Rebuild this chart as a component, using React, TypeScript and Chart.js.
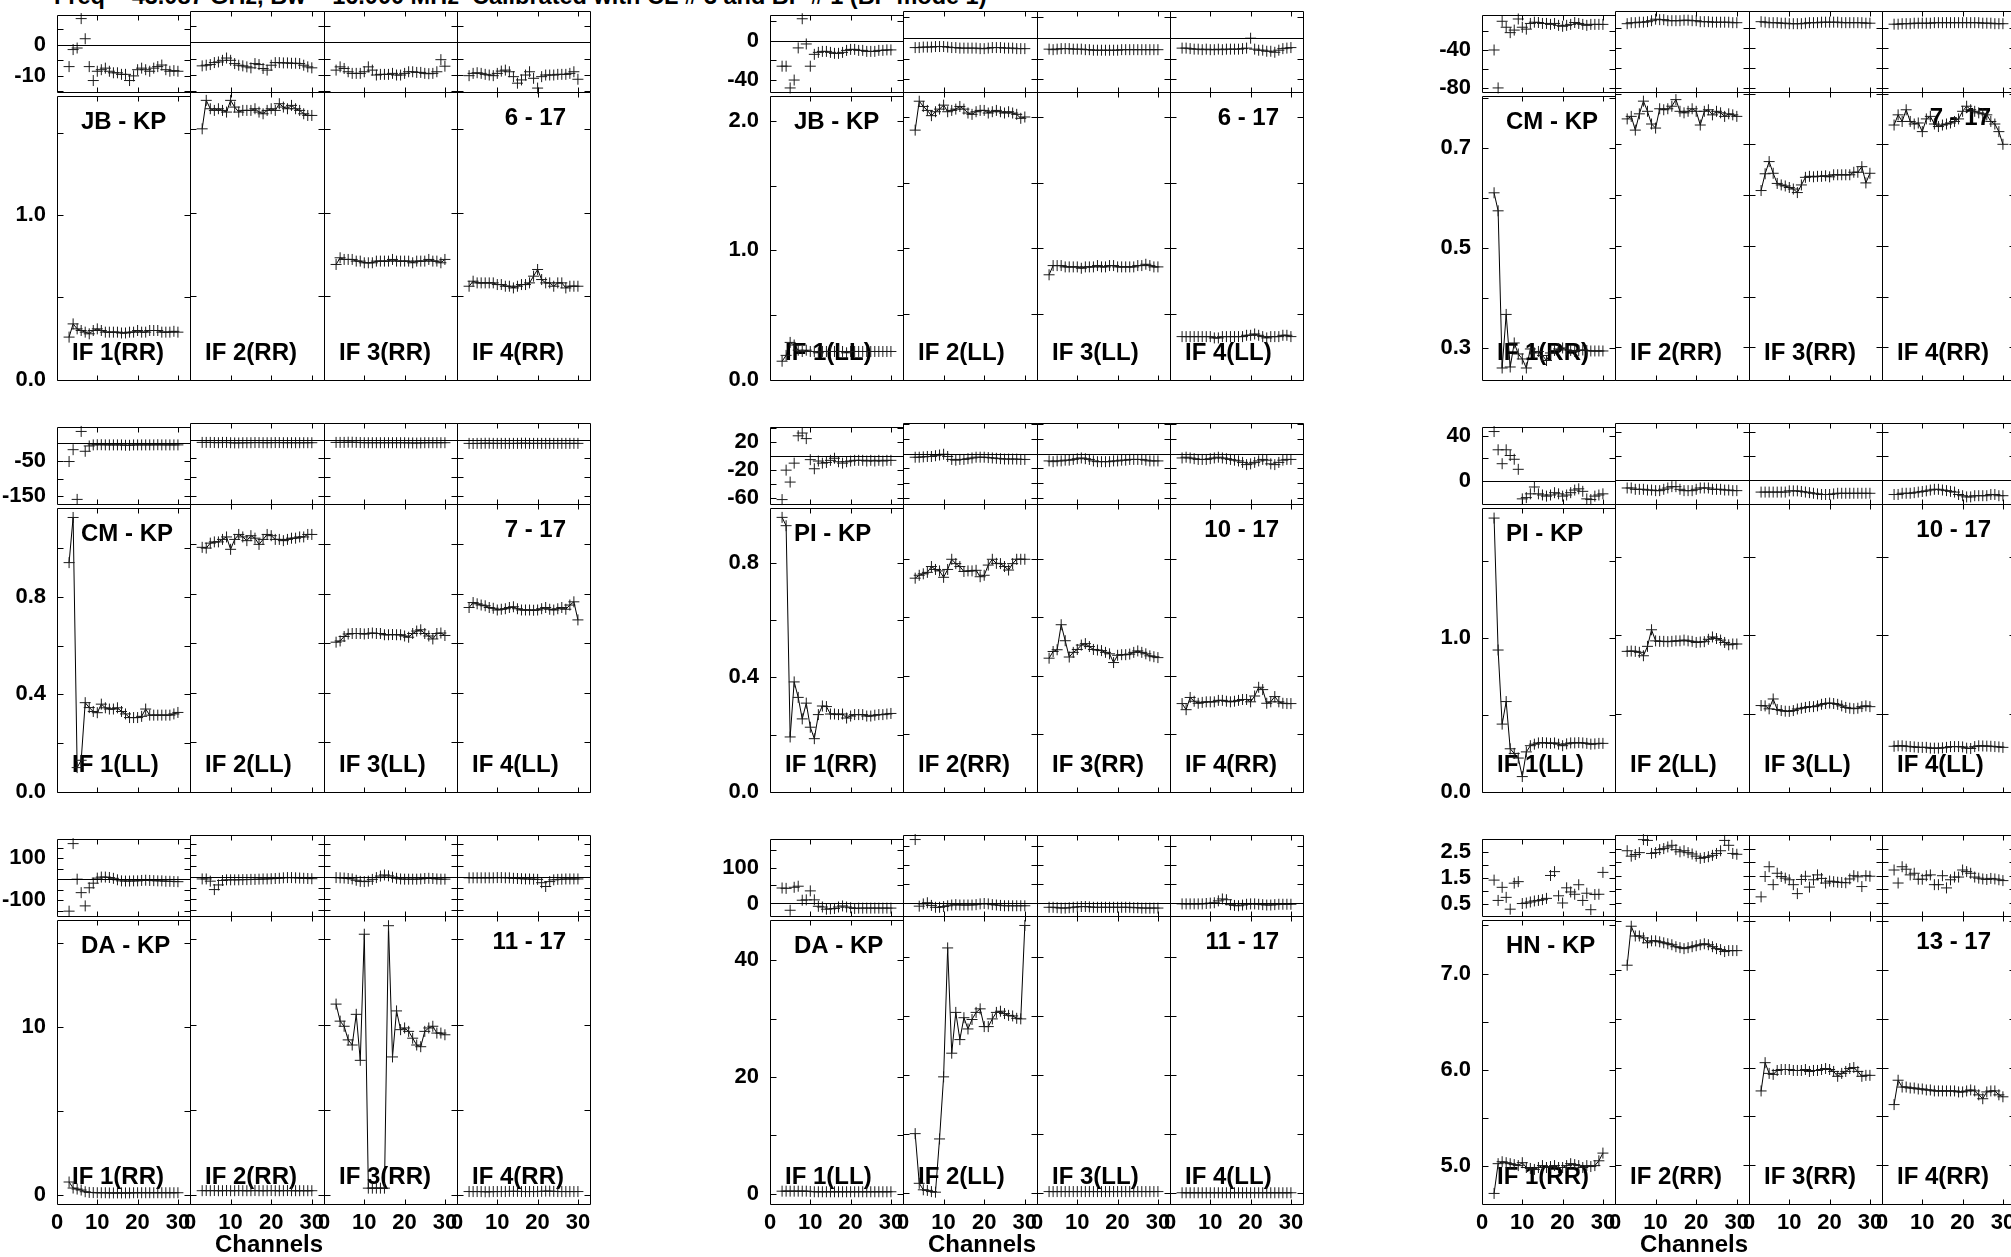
import React, { useEffect, useRef } from 'react';
import { Chart, registerables } from 'chart.js';

Chart.register(...registerables);

const FONT = '"Liberation Sans", Arial, Helvetica, sans-serif';

const TITLE = 'Freq = 43.087 GHz, Bw = 16.000 MHz  Calibrated with CL # 3 and BP # 1 (BP mode 1)';
const X_AXIS_TITLE = 'Channels';
const CHANNELS = [3, 4, 5, 6, 7, 8, 9, 10, 11, 12, 13, 14, 15, 16, 17, 18, 19, 20, 21, 22, 23, 24, 25, 26, 27, 28, 29, 30];
const X_TICKS = [0, 10, 20, 30];
const X_TICK_LABELS = ['0', '10', '20', '30'];
const X_MIN = 0;
const X_MAX = 33;
const IF_NAMES = ['IF 1', 'IF 2', 'IF 3', 'IF 4'];

const BASELINES = ['JB - KP', 'JB - KP', 'CM - KP', 'CM - KP', 'PI - KP', 'PI - KP', 'DA - KP', 'DA - KP', 'HN - KP'];
const ANTENNA_PAIRS = ['6 - 17', '6 - 17', '7 - 17', '7 - 17', '10 - 17', '10 - 17', '11 - 17', '11 - 17', '13 - 17'];
const POLS = ['RR', 'LL', 'RR', 'LL', 'RR', 'LL', 'RR', 'LL', 'RR'];

// ---- phase (degrees) and amplitude per IF, channels 3..30 ----
const JBKP_RR_PHASE = [
  [-7, -1.5, -1, 8.5, 2, -7, -11.5, -8.5, -8, -7.5, -8.5, -9, -9, -9.5, -9.5, -11.5, -10, -8, -7.5, -8, -8.5, -7.5, -7, -6.5, -8, -8.5, -8.3, -8.5],
  [-7.2, -7, -6.8, -6.2, -6, -5.5, -4.8, -5.5, -6.5, -7, -7.2, -7.5, -7.8, -6.5, -6.8, -8, -8.5, -7, -6.2, -6.2, -6.3, -6.3, -6.4, -6.4, -6.5, -7, -7.5, -7.8],
  [-8.5, -7.5, -8, -9, -9.5, -9.5, -9.5, -9, -7.5, -8.5, -10, -9.8, -9.8, -9.8, -9.5, -10, -10, -9.5, -9, -9, -9.2, -9.2, -9.5, -9.6, -9.5, -9, -5.3, -7.3],
  [-10.2, -9.5, -9.3, -9.5, -9.8, -10, -10.2, -9.5, -8.8, -8.5, -9, -10.5, -12.5, -11.5, -10, -9, -11, -14, -10.5, -10, -10, -10, -9.8, -9.8, -9.8, -9.5, -9, -11.3],
];
const JBKP_RR_AMP = [
  [0.26, 0.34, 0.31, 0.30, 0.29, 0.28, 0.30, 0.31, 0.30, 0.29, 0.29, 0.29, 0.29, 0.285, 0.285, 0.29, 0.29, 0.30, 0.29, 0.29, 0.30, 0.30, 0.30, 0.29, 0.29, 0.29, 0.295, 0.29],
  [1.50, 1.67, 1.62, 1.61, 1.62, 1.61, 1.60, 1.67, 1.63, 1.60, 1.61, 1.61, 1.61, 1.62, 1.60, 1.59, 1.61, 1.62, 1.61, 1.65, 1.63, 1.62, 1.64, 1.62, 1.61, 1.59, 1.58, 1.58],
  [0.69, 0.73, 0.72, 0.72, 0.72, 0.71, 0.71, 0.70, 0.70, 0.70, 0.71, 0.71, 0.71, 0.71, 0.72, 0.71, 0.71, 0.71, 0.71, 0.70, 0.71, 0.71, 0.71, 0.72, 0.71, 0.71, 0.70, 0.72],
  [0.56, 0.59, 0.58, 0.58, 0.58, 0.58, 0.58, 0.57, 0.57, 0.56, 0.56, 0.55, 0.56, 0.57, 0.57, 0.58, 0.62, 0.66, 0.60, 0.58, 0.58, 0.56, 0.58, 0.58, 0.55, 0.56, 0.56, 0.56],
];
const JBKP_LL_PHASE = [
  [-26, -26, -48, -40, -7.5, 22, -3.5, -26, -14, -12, -11, -11, -12, -13, -13, -12, -10, -9, -9, -10, -10, -11, -11, -11, -10, -10, -9.5, -9.5],
  [-9.5, -9.5, -9, -9, -9, -8.5, -8.5, -8.5, -9, -9.5, -9.5, -10, -10, -10, -10, -10, -10.5, -10.5, -10, -9.5, -9.5, -9.5, -10, -10, -10, -10.5, -10.5, -10.5],
  [-11, -11.5, -11, -10.5, -10.5, -10.5, -11, -11, -11, -11.5, -11.5, -12, -12, -12, -12, -12, -12, -12, -11.5, -11.5, -11.5, -11.5, -11.5, -11.5, -11.5, -11.5, -11.5, -11.5],
  [-10, -10, -10.5, -11, -11, -11.5, -11, -11.5, -11.5, -11, -11.5, -11, -11, -11, -11, -10.5, -10, -0.5, -11, -12, -12, -13, -13, -14, -12, -10.5, -10, -9.5],
];
const JBKP_LL_AMP = [
  [0.145, 0.19, 0.29, 0.27, 0.23, 0.22, 0.23, 0.22, 0.22, 0.21, 0.22, 0.22, 0.22, 0.22, 0.22, 0.22, 0.21, 0.22, 0.22, 0.22, 0.22, 0.22, 0.22, 0.22, 0.22, 0.22, 0.22, 0.22],
  [1.90, 2.12, 2.08, 2.05, 2.01, 2.04, 2.06, 2.09, 2.04, 2.05, 2.06, 2.08, 2.06, 2.03, 2.02, 2.04, 2.05, 2.05, 2.03, 2.04, 2.05, 2.04, 2.03, 2.04, 2.03, 2.02, 1.99, 2.0],
  [0.80, 0.87, 0.87, 0.87, 0.86, 0.86, 0.86, 0.86, 0.85, 0.86, 0.86, 0.86, 0.87, 0.86, 0.86, 0.87, 0.87, 0.86, 0.86, 0.86, 0.86, 0.86, 0.87, 0.87, 0.88, 0.87, 0.86, 0.86],
  [0.33, 0.33, 0.33, 0.33, 0.33, 0.33, 0.33, 0.33, 0.32, 0.32, 0.33, 0.33, 0.33, 0.33, 0.33, 0.33, 0.34, 0.34, 0.35, 0.34, 0.33, 0.32, 0.33, 0.33, 0.33, 0.34, 0.34, 0.33],
];
const CMKP_RR_PHASE = [
  [-40, -80, -9.7, -16, -21.7, -19, -7.3, -16, -18, -12, -10.7, -11, -12, -12, -13, -12, -14, -15, -14, -13, -11, -12, -13, -14, -13, -13, -13, -13],
  [-16, -15, -15, -14.5, -14.5, -14, -13, -11.5, -12, -12, -13, -13, -13, -13, -12.5, -12.5, -13, -13, -14, -14, -14, -14.5, -14.5, -14.5, -14.5, -14.5, -15, -15],
  [-14, -14.5, -15, -15, -15, -15.5, -15.5, -16, -16, -16, -16, -15.5, -15, -15, -15, -14.5, -14.5, -14.5, -14.5, -14.5, -15, -15, -15, -15, -15, -15, -15.5, -15.5],
  [-16.5, -16.5, -16, -16, -16, -15.5, -15.5, -15.5, -15.5, -15.5, -15, -15, -15, -15, -15, -15, -15, -15, -15, -15, -15, -15, -15.5, -15.5, -15.5, -16, -16, -16],
];
const CMKP_RR_AMP = [
  [0.61, 0.574, 0.26, 0.367, 0.262, 0.31, 0.288, 0.278, 0.26, 0.298, 0.29, 0.293, 0.285, 0.275, 0.29, 0.295, 0.298, 0.30, 0.296, 0.295, 0.293, 0.295, 0.296, 0.295, 0.294, 0.294, 0.294, 0.294],
  [0.75, 0.755, 0.728, 0.76, 0.785, 0.765, 0.74, 0.732, 0.77, 0.768, 0.77, 0.775, 0.788, 0.765, 0.762, 0.765, 0.77, 0.765, 0.738, 0.765, 0.768, 0.758, 0.765, 0.762, 0.755, 0.76, 0.758, 0.755],
  [0.609, 0.642, 0.666, 0.643, 0.623, 0.62, 0.618, 0.615, 0.612, 0.605, 0.62, 0.635, 0.637, 0.636, 0.637, 0.637, 0.638, 0.636, 0.64, 0.64, 0.64, 0.64, 0.64, 0.645, 0.645, 0.656, 0.624, 0.643],
  [0.738, 0.758, 0.745, 0.768, 0.745, 0.74, 0.742, 0.725, 0.75, 0.755, 0.74, 0.735, 0.738, 0.74, 0.742, 0.745, 0.75, 0.765, 0.775, 0.768, 0.765, 0.762, 0.76, 0.758, 0.745, 0.74, 0.725, 0.70],
];
const CMKP_LL_PHASE = [
  [-52, -18.5, -159, 33, -23, -8, -5, -4.5, -4.5, -5, -5, -5, -5, -5, -6, -6, -5, -5, -5, -5, -5, -5, -4.5, -5, -5, -5, -5, -5],
  [-7, -7, -7, -7.4, -7.8, -7, -7, -7.8, -8.3, -8.3, -7.8, -7.8, -7.8, -7.4, -7.4, -7.8, -7.8, -7.8, -7.4, -7.4, -7.8, -7.8, -7.8, -7.8, -7.8, -7.8, -7.8, -7.8],
  [-7, -7, -7, -6.5, -6.5, -7, -7.4, -7.8, -7.8, -7.8, -7.8, -7.8, -7.8, -7.8, -7.8, -7.8, -7.8, -7.8, -8.3, -8.3, -8.7, -8.3, -7.8, -7.8, -7.8, -7.8, -7.8, -7.8],
  [-9.6, -10, -9.6, -9.6, -9.2, -9.2, -9.6, -9.6, -9.6, -9.6, -9.6, -9.6, -9.6, -9.2, -9.2, -9.6, -9.6, -9.6, -9.6, -9.6, -9.6, -9.6, -9.6, -9.6, -9.6, -9.6, -9.6, -9.6],
];
const CMKP_LL_AMP = [
  [0.94, 1.125, 0.10, 0.13, 0.366, 0.346, 0.33, 0.325, 0.36, 0.345, 0.34, 0.34, 0.345, 0.33, 0.32, 0.305, 0.305, 0.305, 0.31, 0.34, 0.315, 0.315, 0.315, 0.315, 0.315, 0.315, 0.32, 0.326],
  [0.988, 0.985, 1.005, 1.01, 1.01, 1.02, 1.03, 0.98, 1.02, 1.04, 1.03, 1.015, 1.035, 1.025, 1.0, 1.02, 1.04, 1.035, 1.02, 1.02, 1.015, 1.02, 1.025, 1.025, 1.03, 1.03, 1.04, 1.04],
  [0.605, 0.61, 0.628, 0.638, 0.64, 0.64, 0.64, 0.638, 0.64, 0.642, 0.64, 0.64, 0.635, 0.635, 0.636, 0.635, 0.635, 0.63, 0.625, 0.64, 0.65, 0.655, 0.64, 0.63, 0.618, 0.64, 0.642, 0.632],
  [0.745, 0.765, 0.76, 0.755, 0.752, 0.745, 0.742, 0.735, 0.738, 0.74, 0.745, 0.748, 0.74, 0.735, 0.735, 0.735, 0.734, 0.735, 0.74, 0.745, 0.738, 0.735, 0.74, 0.745, 0.738, 0.755, 0.768, 0.695],
];
const PIKP_RR_PHASE = [
  [-62, -20, -37, -10, 29, 33, 25, -5, -18, -7, -10, -9, -6, -3, -8, -10, -8, -7, -6, -6, -6, -7, -6, -7, -6, -7, -6, -6],
  [-5, -5, -4.5, -4, -4, -3, -2, -1, -4, -8, -9, -8, -8, -7, -6, -5, -5, -5, -5.5, -6, -6.5, -7, -7.5, -7.5, -7.5, -7.5, -8, -8],
  [-10, -11, -10, -10, -9, -9, -8, -7, -6, -7, -8, -10, -11, -11, -11, -11, -10, -10, -9, -9, -8, -8, -8, -8, -9, -10, -10, -10],
  [-6, -5, -6, -7, -8, -8, -8, -7, -6, -5, -6, -7, -8, -9, -10, -12, -15, -14, -12, -10, -8, -9, -14, -15, -12, -9, -8, -8],
];
const PIKP_RR_AMP = [
  [0.958, 0.929, 0.192, 0.384, 0.33, 0.255, 0.31, 0.226, 0.186, 0.27, 0.30, 0.298, 0.272, 0.272, 0.27, 0.272, 0.258, 0.265, 0.27, 0.27, 0.27, 0.265, 0.265, 0.268, 0.27, 0.27, 0.272, 0.274],
  [0.735, 0.745, 0.75, 0.755, 0.775, 0.765, 0.76, 0.738, 0.765, 0.80, 0.785, 0.775, 0.758, 0.76, 0.76, 0.762, 0.74, 0.745, 0.78, 0.80, 0.786, 0.785, 0.775, 0.763, 0.785, 0.80, 0.80, 0.80],
  [0.46, 0.483, 0.489, 0.575, 0.52, 0.464, 0.48, 0.49, 0.505, 0.51, 0.5, 0.49, 0.488, 0.486, 0.48, 0.475, 0.445, 0.47, 0.472, 0.472, 0.474, 0.48, 0.485, 0.48, 0.475, 0.468, 0.465, 0.462],
  [0.304, 0.283, 0.325, 0.312, 0.305, 0.308, 0.31, 0.31, 0.31, 0.315, 0.315, 0.312, 0.31, 0.312, 0.315, 0.318, 0.318, 0.31, 0.33, 0.36, 0.352, 0.305, 0.31, 0.328, 0.31, 0.305, 0.304, 0.304],
];
const PIKP_LL_PHASE = [
  [43.6, 27.6, 15.4, 27.6, 22.6, 19.3, 10.5, -15.4, -14.3, -11, -5, -11, -12, -13, -12, -10, -11, -13, -12, -10, -7.7, -6.6, -8.8, -15.4, -16, -13, -12, -11],
  [-6.6, -6.6, -7.7, -7.7, -7.7, -8.3, -8.3, -8.8, -8.8, -7.7, -6.6, -5.5, -5.5, -7.7, -8.8, -8.8, -8.8, -7.7, -6.6, -6.6, -6.6, -7.7, -7.7, -7.7, -8.3, -8.3, -8.8, -8.8],
  [-10, -10, -10, -10, -10, -10, -10, -9, -9, -9, -9.5, -10, -10.5, -11, -11.5, -12, -12, -12, -11.5, -11, -11, -11, -11, -11, -11, -11, -11, -11],
  [-12, -12, -11, -11, -11, -10.5, -10, -9.5, -9, -8.3, -7.7, -7.7, -8.3, -8.8, -9.4, -10, -12, -13, -14, -14, -13, -13, -13, -13, -12, -12, -13, -13],
];
const PIKP_LL_AMP = [
  [1.775, 0.92, 0.44, 0.586, 0.28, 0.25, 0.22, 0.10, 0.26, 0.30, 0.31, 0.318, 0.32, 0.318, 0.315, 0.318, 0.31, 0.30, 0.312, 0.318, 0.318, 0.32, 0.318, 0.315, 0.31, 0.312, 0.315, 0.315],
  [0.898, 0.9, 0.898, 0.892, 0.87, 0.93, 1.036, 0.965, 0.962, 0.962, 0.96, 0.962, 0.965, 0.965, 0.97, 0.965, 0.962, 0.955, 0.958, 0.96, 0.975, 0.99, 0.98, 0.97, 0.955, 0.94, 0.945, 0.945],
  [0.552, 0.55, 0.531, 0.594, 0.527, 0.52, 0.516, 0.515, 0.52, 0.53, 0.535, 0.54, 0.545, 0.545, 0.55, 0.56, 0.565, 0.568, 0.565, 0.56, 0.55, 0.54, 0.535, 0.532, 0.535, 0.545, 0.55, 0.545],
  [0.292, 0.295, 0.295, 0.292, 0.29, 0.288, 0.285, 0.285, 0.285, 0.28, 0.28, 0.28, 0.282, 0.285, 0.29, 0.29, 0.29, 0.288, 0.28, 0.278, 0.29, 0.295, 0.294, 0.293, 0.292, 0.29, 0.288, 0.285],
];
const DAKP_RR_PHASE = [
  [-152, 169, 0, -64, -127, -41, -19, 5, 10, 10, 8, 4, -3, -8, -9, -9, -8, -8, -6, -5, -6, -7, -8, -8, -10, -10, -11, -12],
  [-8, -8, -18, -56, -35, -15, -12, -12, -12, -12, -11, -11, -10, -10, -9, -8, -8, -7, -6, -5, -3, -2, -2, -3, -4, -5, -6, -7],
  [-2, -3, -4, -6, -8, -14, -19, -20, -18, -10, -2, 5, 10, 6, 0, -5, -8, -9, -9, -9, -9, -8, -6, -5, -6, -8, -9, -9],
  [-3, -3, -3, -3, -3, -3, -3, -2, -2, -3, -3, -5, -6, -7, -8, -8, -9, -10, -25, -42, -20, -12, -10, -9, -8, -8, -8, -8],
];
const DAKP_RR_AMP = [
  [0.78, 0.42, 0.36, 0.3, 0.2, 0.16, 0.15, 0.14, 0.14, 0.14, 0.13, 0.13, 0.13, 0.13, 0.13, 0.13, 0.14, 0.14, 0.14, 0.14, 0.14, 0.14, 0.14, 0.14, 0.14, 0.14, 0.14, 0.14],
  [0.25, 0.26, 0.25, 0.26, 0.25, 0.25, 0.26, 0.25, 0.25, 0.26, 0.25, 0.25, 0.25, 0.26, 0.25, 0.25, 0.25, 0.26, 0.25, 0.25, 0.25, 0.26, 0.25, 0.25, 0.25, 0.25, 0.25, 0.25],
  [11.2, 10.2, 9.9, 9.1, 8.8, 10.6, 7.9, 15.3, 0.4, 0.4, 0.4, 0.4, 0.4, 15.8, 8.1, 10.8, 9.7, 9.8, 9.6, 9.2, 8.8, 8.7, 9.6, 9.8, 9.9, 9.5, 9.5, 9.4],
  [0.2, 0.2, 0.2, 0.2, 0.19, 0.19, 0.2, 0.2, 0.2, 0.2, 0.21, 0.21, 0.21, 0.2, 0.2, 0.2, 0.2, 0.2, 0.21, 0.22, 0.22, 0.21, 0.2, 0.2, 0.2, 0.2, 0.2, 0.2],
];
const DAKP_LL_PHASE = [
  [43, 42, -19, 45, 48, 9, 10, 35, 10, -8, -10, -16, -15, -14, -10, -7, -10, -12, -14, -13, -13, -13, -13, -13, -13, -13, -13, -13],
  [167, -9, -3, 0, -7, -12, -12, -10, -8, -6, -5, -6, -6, -6, -6, -5, -3, -2, -3, -5, -6, -7, -8, -8, -8, -8, -8, -8],
  [-12, -12, -13, -14, -14, -13, -12, -11, -10, -10, -11, -12, -12, -12, -12, -12, -12, -12, -12, -12, -12, -13, -13, -14, -14, -14, -14, -14],
  [-3, -3, -3, -3, -3, -3, -2, -1, 0, 5, 10, 8, -5, -7, -8, -6, -4, -3, -3, -4, -5, -6, -6, -5, -4, -4, -4, -4],
];
const DAKP_LL_AMP = [
  [0.4, 0.4, 0.4, 0.4, 0.4, 0.4, 0.4, 0.35, 0.3, 0.3, 0.3, 0.3, 0.3, 0.3, 0.3, 0.3, 0.3, 0.3, 0.3, 0.3, 0.3, 0.3, 0.3, 0.3, 0.3, 0.3, 0.3, 0.3],
  [10.1, 1.7, 0.6, 0.5, 0.3, 0.2, 9.2, 19.7, 41.5, 23.7, 30.6, 26, 29.7, 27.8, 29.4, 30.6, 31.2, 28.2, 28.2, 29.5, 30.6, 30.8, 30.4, 30.1, 30, 29.6, 29.5, 45.3],
  [0.3, 0.3, 0.3, 0.3, 0.3, 0.3, 0.3, 0.3, 0.3, 0.3, 0.3, 0.3, 0.3, 0.3, 0.3, 0.3, 0.3, 0.3, 0.3, 0.3, 0.3, 0.3, 0.3, 0.3, 0.3, 0.3, 0.3, 0.3],
  [0.1, 0.1, 0.1, 0.1, 0.1, 0.1, 0.1, 0.1, 0.1, 0.1, 0.1, 0.1, 0.1, 0.1, 0.1, 0.1, 0.1, 0.1, 0.1, 0.1, 0.1, 0.1, 0.1, 0.1, 0.1, 0.1, 0.1, 0.1],
];
const HNKP_RR_PHASE = [
  [1.41, 0.62, 1.13, 0.74, 0.28, 1.29, 1.35, 0.5, 0.52, 0.56, 0.6, 0.62, 0.65, 0.7, 1.59, 1.74, 0.8, 0.52, 1.11, 0.95, 0.86, 1.23, 0.62, 0.9, 0.26, 0.85, 0.86, 1.71],
  [2.42, 2.22, 2.28, 2.35, 2.83, 2.8, 2.32, 2.35, 2.46, 2.5, 2.56, 2.62, 2.46, 2.38, 2.42, 2.35, 2.3, 2.22, 2.14, 2.17, 2.2, 2.25, 2.32, 2.42, 2.8, 2.62, 2.32, 2.29],
  [0.72, 1.47, 1.83, 1.17, 1.59, 1.47, 1.41, 1.35, 1.17, 0.84, 1.36, 1.48, 1.08, 1.35, 1.53, 1.4, 1.23, 1.3, 1.28, 1.26, 1.25, 1.24, 1.38, 1.5, 1.46, 1.1, 1.5, 1.48],
  [1.71, 1.23, 1.83, 1.74, 1.53, 1.59, 1.37, 1.37, 1.5, 1.53, 1.17, 1.17, 1.5, 1.05, 1.35, 1.45, 1.45, 1.71, 1.65, 1.59, 1.45, 1.41, 1.38, 1.36, 1.4, 1.38, 1.35, 1.32],
];
const HNKP_RR_AMP = [
  [4.71, 5.02, 5.04, 5.03, 5.02, 5.01, 5.0, 5.03, 4.98, 4.97, 4.96, 4.98, 5.0, 4.98, 4.99, 5.0, 4.98, 4.98, 5.0, 5.02, 5.01, 5.0, 4.98, 5.0, 4.99, 5.0, 5.05, 5.13],
  [7.05, 7.45, 7.35, 7.35, 7.33, 7.28, 7.3, 7.3, 7.29, 7.28, 7.27, 7.26, 7.24, 7.23, 7.22, 7.23, 7.24, 7.25, 7.26, 7.27, 7.26, 7.24, 7.22, 7.21, 7.19, 7.2, 7.2, 7.2],
  [5.76, 6.05, 5.94, 5.93, 5.97, 5.98, 5.98, 5.98, 5.97, 5.97, 5.97, 5.98, 5.96, 5.97, 5.97, 5.98, 5.99, 5.98, 5.96, 5.91, 5.94, 5.96, 5.99, 6.0, 5.96, 5.91, 5.92, 5.92],
  [5.62, 5.87, 5.8, 5.8, 5.79, 5.79, 5.78, 5.78, 5.77, 5.77, 5.76, 5.76, 5.76, 5.76, 5.76, 5.76, 5.75, 5.75, 5.76, 5.77, 5.76, 5.72, 5.68, 5.75, 5.76, 5.76, 5.72, 5.7],
];

const PHASE_DATA = [JBKP_RR_PHASE, JBKP_LL_PHASE, CMKP_RR_PHASE, CMKP_LL_PHASE, PIKP_RR_PHASE, PIKP_LL_PHASE, DAKP_RR_PHASE, DAKP_LL_PHASE, HNKP_RR_PHASE];
const AMP_DATA = [JBKP_RR_AMP, JBKP_LL_AMP, CMKP_RR_AMP, CMKP_LL_AMP, PIKP_RR_AMP, PIKP_LL_AMP, DAKP_RR_AMP, DAKP_LL_AMP, HNKP_RR_AMP];

// ---- axes ----
const PHASE_RANGES = [[-15.2, 9.6], [-52.1, 25.6], [-84.3, -3.3], [-172, 45], [-68.3, 41.3], [-19.9, 47.4], [-175, 190], [-35, 179], [0.015, 3.0]];
const PHASE_TICKS = [[-15, -10, -5, 0, 5], [-40, -20, 0, 20], [-80, -60, -40, -20], [-150, -100, -50, 0], [-60, -40, -20, 0, 20, 40], [0, 20, 40], [-150, -100, -50, 0, 50, 100, 150], [0, 50, 100, 150], [0.5, 1, 1.5, 2, 2.5, 3]];
const PHASE_LABELS: [number, string][][] = [
  [[0, '0'], [-10, '-10']], [[0, '0'], [-40, '-40']], [[-40, '-40'], [-80, '-80']],
  [[-50, '-50'], [-150, '-150']], [[20, '20'], [-20, '-20'], [-60, '-60']], [[40, '40'], [0, '0']],
  [[100, '100'], [-100, '-100']], [[100, '100'], [0, '0']], [[2.5, '2.5'], [1.5, '1.5'], [0.5, '0.5']],
];
const AMP_RANGES = [[0, 1.72], [0, 2.19], [0.236, 0.803], [0, 1.163], [0, 0.99], [0, 1.839], [-0.53, 16.37], [-1.8, 46.9], [4.6, 7.555]];
const AMP_TICKS = [[0, 0.5, 1, 1.5], [0, 0.5, 1, 1.5, 2], [0.3, 0.4, 0.5, 0.6, 0.7, 0.8], [0, 0.2, 0.4, 0.6, 0.8, 1.0], [0, 0.2, 0.4, 0.6, 0.8], [0, 0.5, 1, 1.5], [0, 5, 10, 15], [0, 10, 20, 30, 40], [5, 5.5, 6, 6.5, 7, 7.5]];
const AMP_LABELS: [number, string][][] = [
  [[0, '0.0'], [1, '1.0']], [[0, '0.0'], [1, '1.0'], [2, '2.0']], [[0.3, '0.3'], [0.5, '0.5'], [0.7, '0.7']],
  [[0, '0.0'], [0.4, '0.4'], [0.8, '0.8']], [[0, '0.0'], [0.4, '0.4'], [0.8, '0.8']], [[0, '0.0'], [1, '1.0']],
  [[0, '0'], [10, '10']], [[0, '0'], [20, '20'], [40, '40']], [[5, '5.0'], [6, '6.0'], [7, '7.0']],
];

// ---- layout ----
const GROUP_LEFT = [57, 770, 1482];
const PANEL_W = 133.25;
const ROW_TOP = [11, 423, 835];
const PHASE_H = 81;
const AMP_H = 288;
const ML = 60, MR = 20, MT = 20, MB = 40;

type TextItem = { text: string; align: 'left' | 'right'; dx: number; fromTop: boolean; dy: number };
type PanelSpec = {
  key: string; x: number; y: number; w: number; h: number; kind: 'phase' | 'amp';
  values: number[]; range: number[]; ticks: number[]; labels: [number, string][];
  showY: boolean; showX: boolean; texts: TextItem[];
};

const PANELS: PanelSpec[] = [];
for (let g = 0; g < 9; g++) {
  const col = g % 3;
  const row = Math.floor(g / 3);
  for (let i = 0; i < 4; i++) {
    const x0 = Math.round(GROUP_LEFT[col] + i * PANEL_W);
    const x1 = Math.round(GROUP_LEFT[col] + (i + 1) * PANEL_W);
    const top = ROW_TOP[row];
    PANELS.push({
      key: `ph-${g}-${i}`, x: x0, y: top, w: x1 - x0, h: PHASE_H, kind: 'phase',
      values: PHASE_DATA[g][i], range: PHASE_RANGES[g], ticks: PHASE_TICKS[g], labels: PHASE_LABELS[g],
      showY: i === 0, showX: false, texts: [],
    });
    const texts: TextItem[] = [{ text: `${IF_NAMES[i]}(${POLS[g]})`, align: 'left', dx: 15, fromTop: false, dy: 20 }];
    if (i === 0) texts.push({ text: BASELINES[g], align: 'left', dx: 24, fromTop: true, dy: 33 });
    if (i === 3) texts.push({ text: ANTENNA_PAIRS[g], align: 'right', dx: 24, fromTop: true, dy: 33 });
    PANELS.push({
      key: `am-${g}-${i}`, x: x0, y: top + PHASE_H, w: x1 - x0, h: AMP_H, kind: 'amp',
      values: AMP_DATA[g][i], range: AMP_RANGES[g], ticks: AMP_TICKS[g], labels: AMP_LABELS[g],
      showY: i === 0, showX: row === 2, texts,
    });
  }
}

function buildChart(canvas: HTMLCanvasElement, p: PanelSpec) {
  const labelFor = (v: number) => {
    const f = p.labels.find((l) => Math.abs(l[0] - v) < 1e-9);
    return f ? f[1] : '';
  };
  const framePlugin = {
    id: 'possmFrame',
    beforeDatasetsDraw(chart: any) {
      const { ctx, chartArea: a } = chart;
      ctx.save();
      ctx.fillStyle = '#000';
      ctx.font = `bold 24px ${FONT}`;
      ctx.textBaseline = 'alphabetic';
      for (const t of p.texts) {
        ctx.textAlign = t.align;
        const x = t.align === 'left' ? a.left + t.dx : a.right - t.dx;
        const y = t.fromTop ? a.top + t.dy : a.bottom - t.dy;
        ctx.fillText(t.text, x, y);
      }
      ctx.restore();
    },
    afterDatasetsDraw(chart: any) {
      const { ctx, chartArea: a, scales } = chart;
      const xs = scales.x;
      const ys = scales.y;
      const L = Math.round(a.left) + 0.5;
      const R = Math.round(a.right) + 0.5;
      const T = Math.round(a.top) + 0.5;
      const B = Math.round(a.bottom) + 0.5;
      ctx.save();
      ctx.strokeStyle = '#000';
      ctx.lineWidth = 1;
      ctx.beginPath();
      ctx.rect(L, T, R - L, B - T);
      for (const v of p.ticks) {
        if (v < ys.min || v > ys.max) continue;
        const y = Math.round(ys.getPixelForValue(v)) + 0.5;
        ctx.moveTo(L, y); ctx.lineTo(L + 6, y);
        ctx.moveTo(R - 6, y); ctx.lineTo(R, y);
      }
      for (const v of X_TICKS) {
        if (v <= X_MIN) continue;
        const x = Math.round(xs.getPixelForValue(v)) + 0.5;
        ctx.moveTo(x, T); ctx.lineTo(x, T + 5);
        ctx.moveTo(x, B - 5); ctx.lineTo(x, B);
      }
      if (p.kind === 'phase' && ys.min < 0 && ys.max > 0) {
        const y0 = Math.round(ys.getPixelForValue(0)) + 0.5;
        ctx.moveTo(L, y0); ctx.lineTo(R, y0);
      }
      ctx.stroke();
      ctx.restore();
    },
  };

  const tickFont = { family: FONT, size: 22, weight: 'bold' as const };

  return new Chart(canvas, {
    type: 'line',
    data: {
      datasets: [
        {
          data: CHANNELS.map((c, k) => ({ x: c, y: p.values[k] })),
          showLine: p.kind === 'amp',
          borderColor: '#000',
          borderWidth: 1,
          pointStyle: 'cross',
          pointRadius: 5.5,
          pointHoverRadius: 5.5,
          pointBorderColor: '#1a1a1a',
          pointBorderWidth: 1,
          tension: 0,
          fill: false,
          clip: false as any,
        } as any,
      ],
    },
    options: {
      responsive: false,
      maintainAspectRatio: false,
      animation: false,
      events: [],
      layout: { padding: { left: 0, top: MT, right: MR, bottom: 0 } },
      plugins: { legend: { display: false }, tooltip: { enabled: false }, title: { display: false } },
      scales: {
        x: {
          type: 'linear',
          position: 'bottom',
          min: X_MIN,
          max: X_MAX,
          grid: { display: false, drawTicks: false, tickLength: 0 },
          border: { display: false },
          afterBuildTicks: (s: any) => { s.ticks = X_TICKS.map((v) => ({ value: v })); },
          afterFit: (s: any) => { s.height = MB; },
          ticks: {
            display: p.showX,
            autoSkip: false,
            maxRotation: 0,
            minRotation: 0,
            padding: 6,
            color: '#000',
            font: tickFont,
            callback: (v: any) => { const k = X_TICKS.indexOf(Number(v)); return k >= 0 ? X_TICK_LABELS[k] : ''; },
          },
        },
        y: {
          type: 'linear',
          position: 'left',
          min: p.range[0],
          max: p.range[1],
          grid: { display: false, drawTicks: false, tickLength: 0 },
          border: { display: false },
          afterBuildTicks: (s: any) => { s.ticks = p.ticks.map((v) => ({ value: v })); },
          afterFit: (s: any) => { s.width = ML; },
          ticks: {
            display: p.showY,
            autoSkip: false,
            padding: 11,
            color: '#000',
            font: tickFont,
            callback: (v: any) => labelFor(Number(v)),
          },
        },
      },
    } as any,
    plugins: [framePlugin as any],
  });
}

function Panel({ p }: { p: PanelSpec }) {
  const ref = useRef<HTMLCanvasElement>(null);
  const W = p.w + ML + MR;
  const H = p.h + MT + MB;
  useEffect(() => {
    if (!ref.current) return;
    const chart = buildChart(ref.current, p);
    return () => chart.destroy();
  }, []);
  return (
    <canvas
      ref={ref}
      width={W}
      height={H}
      style={{ position: 'absolute', left: p.x - ML, top: p.y - MT, width: W, height: H }}
    />
  );
}

export default function App() {
  return (
    <div style={{ position: 'absolute', left: 0, top: 0, width: 2011, height: 1257, overflow: 'hidden', background: '#fff' }}>
      <div style={{ position: 'absolute', left: 54, top: -16, font: `bold 23.5px/24px ${FONT}`, whiteSpace: 'pre', color: '#000' }}>
        {TITLE}
      </div>
      {PANELS.map((p) => (
        <Panel key={p.key} p={p} />
      ))}
      {GROUP_LEFT.map((gl, k) => (
        <div
          key={k}
          style={{ position: 'absolute', left: gl + 212 - 100, width: 200, top: 1232, textAlign: 'center', font: `bold 24px/24px ${FONT}`, color: '#000' }}
        >
          {X_AXIS_TITLE}
        </div>
      ))}
    </div>
  );
}
